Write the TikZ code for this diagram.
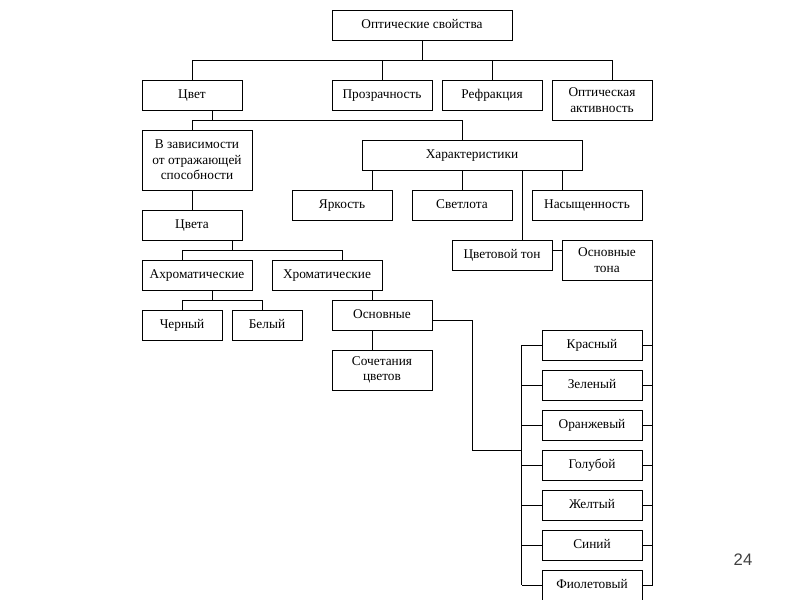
\documentclass[tikz,border=0pt]{standalone}
\usepackage{fontspec}
\setmainfont{Liberation Serif}
\newfontfamily\numfont{Liberation Sans}
\usetikzlibrary{calc}

\tikzset{every picture/.style={line width=0.75pt}}
\tikzset{
	box/.style={draw, inner sep=1pt, align=center, minimum width=75pt, minimum height=22.5pt, font=\fontsize{10}{11.6}\selectfont},
	onebox/.style={box, text height=1.6ex, text depth=0.5ex}}

\begin{document}
\begin{tikzpicture}[x=0.75pt,y=0.75pt,yscale=-1,xscale=1]
	\useasboundingbox (0,0) rectangle (800,600);

	%Shape: Rectangle [top]
	\draw (422,25) node [onebox, minimum width=135pt] (os) {Оптические свойства};
	%Shape: Rectangle [row 1]
	\draw (192,95) node [onebox] (cvet) {Цвет};
	\draw (382,95) node [onebox] (prozr) {Прозрачность};
	\draw (492,95) node [onebox] (refr) {Рефракция};
	\draw (602,100) node [box, minimum height=30pt] (optakt) {Оптическая\\активность};
	%Shape: Rectangle [colour branch]
	\draw (197,160) node [box, minimum width=82.5pt, minimum height=45pt] (zavis) {В зависимости\\от отражающей\\способности};
	\draw (192,225) node [onebox] (cveta) {Цвета};
	\draw (197,275) node [onebox, minimum width=82.5pt] (ahrom) {Ахроматические};
	\draw (327,275) node [onebox, minimum width=82.5pt] (hrom) {Хроматические};
	\draw (182,325) node [onebox, minimum width=60pt] (chern) {Черный};
	\draw (267,325) node [onebox, minimum width=52.5pt] (bel) {Белый};
	\draw (382,315) node [onebox] (osn) {Основные};
	\draw (382,370) node [box, minimum height=30pt] (soch) {Сочетания\\цветов};
	%Shape: Rectangle [characteristics]
	\draw (472,155) node [onebox, minimum width=165pt] (har) {Характеристики};
	\draw (342,205) node [onebox] (yark) {Яркость};
	\draw (462,205) node [onebox] (svetl) {Светлота};
	\draw (587,205) node [onebox, minimum width=82.5pt] (nas) {Насыщенность};
	\draw (502,255) node [onebox] (cton) {Цветовой тон};
	\draw (607,260) node [box, minimum width=67.5pt, minimum height=30pt] (osnton) {Основные\\тона};
	%Shape: Rectangle [main hues]
	\foreach \n/\t [count=\i from 0] in {red/Красный, green/Зеленый, orange/Оранжевый, lblue/Голубой, yellow/Желтый, blue/Синий, violet/Фиолетовый}
		\draw (592,345+40*\i) node [onebox] (\n) {\t};

	%Connectors
	\draw (os.south) -- ++(0,20) coordinate (b1);
	\draw (cvet.north) |- (b1) -| ($(optakt.north)+(10,0)$);
	\draw (prozr.north) -- (prozr.north |- b1);
	\draw (refr.north) -- (refr.north |- b1);

	\draw ($(cvet.south)+(20,0)$) -- ++(0,10) coordinate (b2);
	\draw ($(zavis.north)+(-5,0)$) |- (b2) -| ($(har.north)+(-10,0)$);
	\draw (zavis.south -| cveta.north) -- (cveta.north);

	\draw ($(cveta.south)+(40,0)$) -- ++(0,10) coordinate (b3);
	\draw ($(ahrom.north)+(-15,0)$) |- (b3) -| ($(hrom.north)+(15,0)$);
	\draw ($(ahrom.south)+(15,0)$) -- ++(0,10) coordinate (b4);
	\draw (chern.north) |- (b4) -| ($(bel.north)+(-5,0)$);
	\draw ($(hrom.south)+(45,0)$) -- ($(osn.north)+(-10,0)$);
	\draw ($(osn.south)+(-10,0)$) -- ($(soch.north)+(-10,0)$);

	\draw ($(har.south)+(-100,0)$) -- ($(yark.north)+(30,0)$);
	\draw ($(har.south)+(-10,0)$) -- (svetl.north);
	\draw ($(har.south)+(90,0)$) -- ($(nas.north)+(-25,0)$);
	\draw ($(har.south)+(50,0)$) -- ($(cton.north)+(20,0)$);
	\draw ($(cton.east)+(0,-5)$) -- ($(osnton.west)+(0,-10)$);

	\draw ($(osn.east)+(0,5)$) -- ++(40,0) |- ($(lblue.west)+(-20,-15)$);
	\draw ($(red.west)+(-20,0)$) -- ($(violet.west)+(-20,0)$);
	\draw (osnton.south east) -- ($(violet.east)+(10,0)$);
	\foreach \n in {red,green,orange,lblue,yellow,blue,violet}
		\draw (\n.west) -- ++(-20,0) (\n.east) -- ++(10,0);

	% Text Node
	\draw (743,560) node [font=\numfont\fontsize{12.5}{14}\selectfont, text=black!75] (pagenum) {24};

\end{tikzpicture}
\end{document}
